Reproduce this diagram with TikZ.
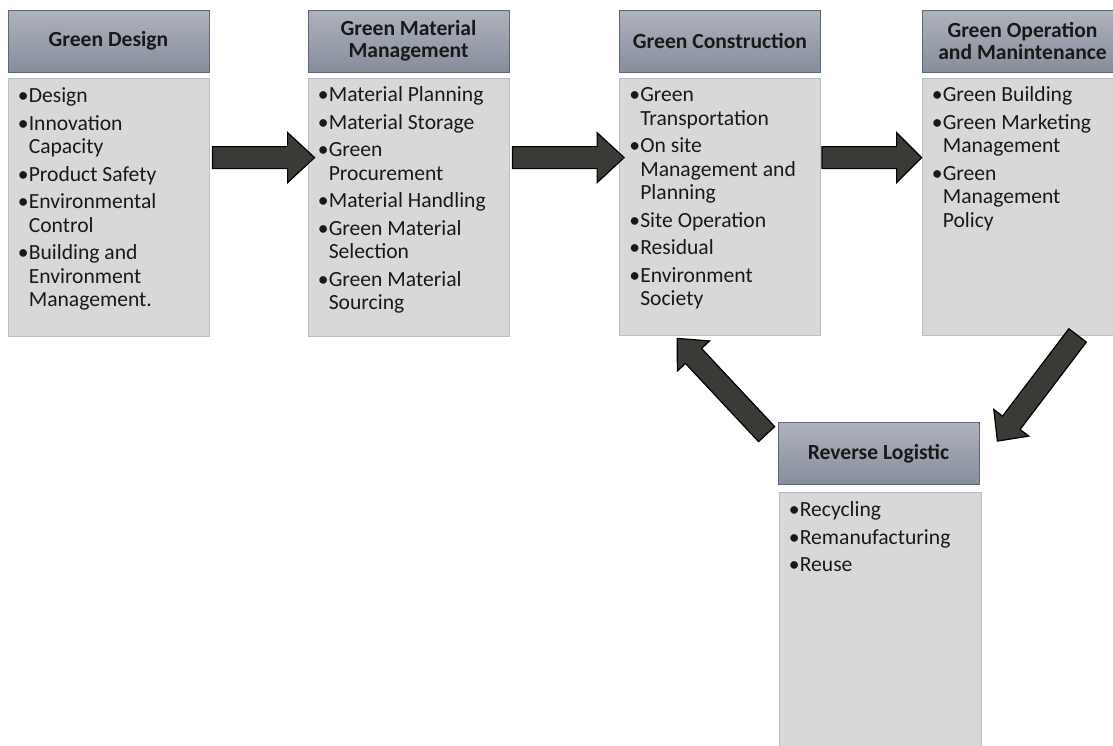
\documentclass[tikz,border=0pt]{standalone}
\usepackage{fontspec}
\setmainfont{Carlito}
\usetikzlibrary{calc}
\definecolor{hdtop}{RGB}{174,178,188}
\definecolor{hdbot}{RGB}{134,141,156}
\definecolor{hdline}{RGB}{96,104,120}
\definecolor{bdfill}{RGB}{215,216,218}
\definecolor{bdline}{RGB}{188,189,191}
\definecolor{arfill}{RGB}{60,58,54}
\definecolor{txt}{RGB}{25,25,25}
\newcommand\bul{\makebox[12pt][l]{\hspace{1pt}•}}
\newcommand\blockarrow[5]{%
  \coordinate (bhd) at ($(#2)!#4!(#1)$);
  \filldraw[blockarr] ($(#1)!#3!90:(#2)$) -- ($(bhd)!#3!90:(#2)$) -- ($(bhd)!#5!90:(#2)$) -- (#2) -- ($(bhd)!#5!-90:(#2)$) -- ($(bhd)!#3!-90:(#2)$) -- ($(#1)!#3!-90:(#2)$) -- cycle;}
\begin{document}
\begin{tikzpicture}[x=1pt,y=-1pt,
  hd/.style={draw=hdline, top color=hdtop, bottom color=hdbot, line width=0.8pt,
    minimum width=201pt, minimum height=62pt, inner sep=0pt, align=center,
    text=txt, font=\bfseries\fontsize{21.6}{22}\selectfont},
  bd/.style={draw=bdline, fill=bdfill, line width=0.8pt, minimum width=201pt, inner sep=0pt},
  bodytext/.style={anchor=base west, inner sep=0pt, text=txt, font=\fontsize{21.6}{23.5}\selectfont},
  blockarr/.style={fill=arfill, draw=black, line width=1.2pt, line join=miter}]
\useasboundingbox (0,0) rectangle (1113,745);
% headers
\node[hd] (h1) at (108.5,41) {Green Design};
\node[hd] (h2) at (408.5,41) {Green Material\\Management};
\node[hd] (h3) at (720,41) {Green Construction};
\node[hd] (h4) at (1022.5,41) {Green Operation\\and Manintenance};
\node[hd] (h5) at (878.5,453.5) {Reverse Logistic};
% bodies
\node[bd, minimum height=258pt] (b1) at (108.5,207) {};
\node[bd, minimum height=258pt] (b2) at (408.5,207) {};
\node[bd, minimum height=257pt] (b3) at (720,206.5) {};
\node[bd, minimum height=257pt] (b4) at (1022.5,206.5) {};
\node[bd, minimum height=278pt, minimum width=202pt] (b5) at (880,631) {};
% texts
\node[bodytext] (t1) at ($(b1.north west)+(9,25)$) {\begin{tabular}[t]{@{}l@{}l@{}}
\bul&Design\\[4pt]
\bul&Innovation\\&Capacity\\[4pt]
\bul&Product Safety\\[4pt]
\bul&Environmental\\&Control\\[4pt]
\bul&Building and\\&Environment\\&Management.
\end{tabular}};
\node[bodytext] (t2) at ($(b2.north west)+(9,24)$) {\begin{tabular}[t]{@{}l@{}l@{}}
\bul&Material Planning\\[4pt]
\bul&Material Storage\\[4pt]
\bul&Green\\&Procurement\\[4pt]
\bul&Material Handling\\[4pt]
\bul&Green Material\\&Selection\\[4pt]
\bul&Green Material\\&Sourcing
\end{tabular}};
\node[bodytext] (t3) at ($(b3.north west)+(9,24)$) {\begin{tabular}[t]{@{}l@{}l@{}}
\bul&Green\\&Transportation\\[4pt]
\bul&On site\\&Management and\\&Planning\\[4pt]
\bul&Site Operation\\[4pt]
\bul&Residual\\[4pt]
\bul&Environment\\&Society
\end{tabular}};
\node[bodytext] (t4) at ($(b4.north west)+(9,24)$) {\begin{tabular}[t]{@{}l@{}l@{}}
\bul&Green Building\\[4pt]
\bul&Green Marketing\\&Management\\[4pt]
\bul&Green\\&Management\\&Policy
\end{tabular}};
\node[bodytext] (t5) at ($(b5.north west)+(9,25)$) {\begin{tabular}[t]{@{}l@{}l@{}}
\bul&Recycling\\[4pt]
\bul&Remanufacturing\\[4pt]
\bul&Reuse
\end{tabular}};
% arrow end points
\coordinate (a1s) at ($(b1.north east)+(3,80)$);
\coordinate (a1e) at ($(b2.north west)+(7,80)$);
\coordinate (a2s) at ($(b2.north east)+(3,80)$);
\coordinate (a2e) at ($(b3.north west)+(5,80)$);
\coordinate (a3s) at ($(b3.north east)+(1,80)$);
\coordinate (a3e) at ($(b4.north west)+(0,80)$);
\coordinate (a4s) at ($(b4.south west)+(156,0)$);
\coordinate (a4e) at ($(h5.north east)+(18,19)$);
\coordinate (a5s) at ($(h5.north west)+(-11,12)$);
\coordinate (a5e) at ($(b3.south west)+(58,3)$);
% arrows
\blockarrow{a1s}{a1e}{11pt}{27pt}{25pt}
\blockarrow{a2s}{a2e}{11pt}{27pt}{25pt}
\blockarrow{a3s}{a3e}{11pt}{25pt}{25pt}
\blockarrow{a4s}{a4e}{11pt}{23pt}{22pt}
\blockarrow{a5s}{a5e}{11pt}{24pt}{22pt}
\end{tikzpicture}
\end{document}
